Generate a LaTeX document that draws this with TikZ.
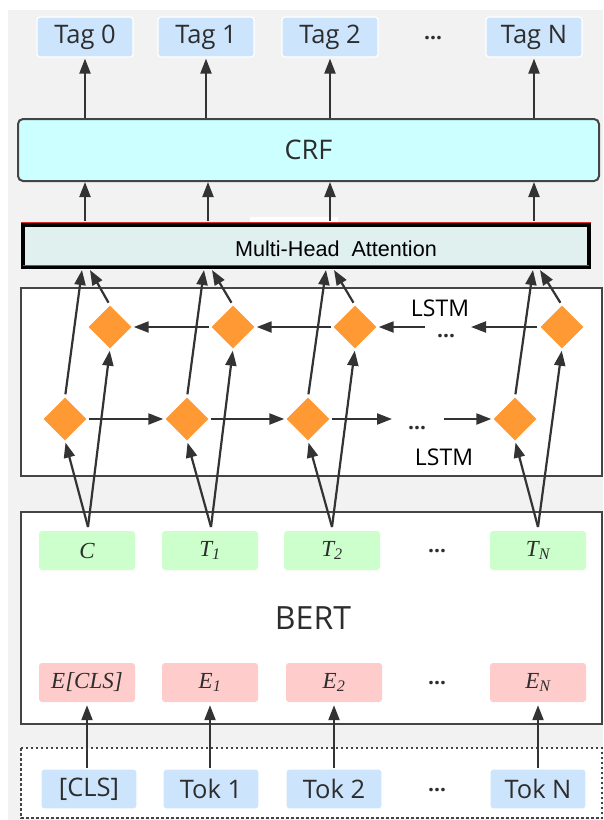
\documentclass[tikz,border=0pt]{standalone}
\usepackage{fontspec}
\setmainfont{Open Sans}
\newfontfamily\arialfont{Liberation Sans}
\newfontfamily\timesfont{Liberation Serif}
\usepackage{xcolor}
\usepackage{tikz}
\usetikzlibrary{calc}
\usetikzlibrary{arrows.meta}
\usetikzlibrary{shapes.geometric}

\definecolor{bggray}{RGB}{242,242,242}
\definecolor{tagblue}{RGB}{204,228,252}
\definecolor{crfcyan}{RGB}{204,255,255}
\definecolor{attteal}{RGB}{223,240,239}
\definecolor{attred}{RGB}{225,40,40}
\definecolor{outgreen}{RGB}{204,255,204}
\definecolor{embpink}{RGB}{255,204,204}
\definecolor{lstmorange}{RGB}{255,153,51}
\definecolor{framegray}{RGB}{68,68,68}
\definecolor{arrowgray}{RGB}{51,51,51}
\definecolor{textgray}{RGB}{45,45,45}

\begin{document}
\begin{tikzpicture}[x=1pt,y=-1pt]
% 1 = 1px of the sketch, y grows downwards
    \def\YTAG{37}
    \def\YCRF{150}
    \def\YBWD{327} % backward LSTM row
    \def\YFWD{419} % forward LSTM row
    \def\YAPEX{527} % where the two arrows leave T
    \def\YT{550.5}
    \def\YE{682.5}
    \def\YTOK{789}
    \def\YATTIN{270}

    %upper columns (tags, crf)
    \def\XUONE{85}
    \def\XUTWO{207}
    \def\XUTHREE{330}
    \def\XUFOUR{535}

    %lower columns (bert)
    \def\XLONE{88}
    \def\XLTWO{211}
    \def\XLTHREE{333}
    \def\XLFOUR{538}

    \tikzset{
      tagbox/.style={fill=tagblue, draw=white, line width=1.2pt,
        rounded corners=3pt, minimum width=96pt, minimum height=40pt,
        inner sep=0pt, text=textgray, font=\fontsize{25.5}{30}\selectfont},
      featbox/.style={rounded corners=3pt, minimum width=96pt,
        minimum height=39pt, inner sep=0pt, text=textgray,
        font=\timesfont\itshape\fontsize{23}{27}\selectfont},
      outbox/.style={featbox, fill=outgreen},
      embbox/.style={featbox, fill=embpink},
      lstmcell/.style={diamond, fill=lstmorange, minimum width=43pt,
        minimum height=43pt, inner sep=0pt},
      boxframe/.style={draw=framegray, line width=2pt, fill=white},
      arr/.style={-{Triangle[length=15pt,width=11pt]}, line width=2.2pt,
        color=arrowgray},
      ellip/.style={anchor=base, inner sep=0pt,
        font=\bfseries\fontsize{21}{25}\selectfont, text=textgray},
      lstmlabel/.style={inner sep=0pt, text=black,
        font=\fontsize{23}{27}\selectfont},
    }

    \useasboundingbox (0,0) rectangle (603,820);
    \fill[bggray] (8,10) rectangle (603,820);

    % TAG ROW
    \node[tagbox] (tag0) at (\XUONE,\YTAG) {Tag 0};
    \node[tagbox] (tag1) at (\XUTWO-1,\YTAG) {Tag 1};
    \node[tagbox] (tag2) at (\XUTHREE,\YTAG) {Tag 2};
    \node[ellip] (tagdots) at (433,\YTAG+2) {…};
    \node[tagbox] (tagN) at (\XUFOUR-1,\YTAG) {Tag N};

    % CRF
    \node[draw=framegray, line width=2pt, fill=crfcyan, rounded corners=5pt,
        minimum width=581pt, minimum height=62pt, text=textgray,
        font=\fontsize{27}{32}\selectfont] (crf) at (308.5,\YCRF) {CRF};

    % MULTI-HEAD ATTENTION
    \fill[white] (250,217) rectangle (338,222);
    \node[draw=black, line width=4pt, fill=attteal, minimum width=566pt,
        minimum height=42pt] (att) at (306,246) {};
    \draw[attred, line width=0.8pt] (21,222.3) -- (591,222.3);
    \draw[attred, line width=0.8pt] (23,265.3) -- (589,265.3);
    \node[inner sep=0pt, text=black, font=\arialfont\fontsize{21.6}{25}\selectfont]
        (atttxt) at (336,249) {Multi-Head\ \ Attention};

    % BI-LSTM
    \draw[boxframe] (21,288) rectangle (602,476);
    \node[lstmcell] (bwd1) at (110,\YBWD) {};
    \node[lstmcell] (bwd2) at (233,\YBWD) {};
    \node[lstmcell] (bwd3) at (355,\YBWD) {};
    \node[lstmcell] (bwd4) at (562,\YBWD) {};
    \node[lstmcell] (fwd1) at (65,\YFWD) {};
    \node[lstmcell] (fwd2) at (187,\YFWD) {};
    \node[lstmcell] (fwd3) at (308,\YFWD) {};
    \node[lstmcell] (fwd4) at (515,\YFWD) {};
    \node[lstmlabel] (bwdlabel) at (440,308.5) {LSTM};
    \node[lstmlabel] (fwdlabel) at (444,457) {LSTM};
    \node[ellip] (bwddots) at (446,\YBWD+10) {…};
    \node[ellip] (fwddots) at (417,\YFWD+10) {…};
    \coordinate (bwdend) at (471,\YBWD);
    \coordinate (bwdstart) at (425,\YBWD);
    \coordinate (fwdend) at (392,\YFWD);
    \coordinate (fwdstart) at (444,\YFWD);

    % BERT
    \draw[boxframe] (21,512) rectangle (602,724);
    \node[inner sep=0pt, text=textgray, font=\fontsize{32}{38}\selectfont]
        (bert) at (313,618) {BERT};
    \node[outbox] (t0) at (\XLONE-1,\YT) {C};
    \node[outbox] (t1) at (\XLTWO-1,\YT) {T\textsubscript{1}};
    \node[outbox] (t2) at (\XLTHREE-1,\YT) {T\textsubscript{2}};
    \node[ellip] (tdots) at (437,\YT+2) {…};
    \node[outbox] (tN) at (\XLFOUR,\YT) {T\textsubscript{N}};
    \node[embbox] (e0) at (\XLONE-1,\YE) {E[CLS]};
    \node[embbox] (e1) at (\XLTWO-1,\YE) {E\textsubscript{1}};
    \node[embbox] (e2) at (\XLTHREE+1,\YE) {E\textsubscript{2}};
    \node[ellip] (edots) at (437,\YE+2) {…};
    \node[embbox] (eN) at (\XLFOUR,\YE) {E\textsubscript{N}};

    % INPUT TOKENS
    \draw[draw=framegray, fill=white, line width=2pt,
        dash pattern=on 2.5pt off 2.5pt] (21,748) rectangle (602,818);
    \node[tagbox] (tok0) at (\XLONE+1,\YTOK) {[CLS]};
    \node[tagbox] (tok1) at (\XLTWO,\YTOK) {Tok 1};
    \node[tagbox] (tok2) at (\XLTHREE+1,\YTOK) {Tok 2};
    \node[ellip] (tokdots) at (437,\YTOK+2) {…};
    \node[tagbox] (tokN) at (\XLFOUR,\YTOK) {Tok N};

    % tokens into embeddings
    \draw[arr, shorten >=3pt] (tok0.north -| e0) -- (e0);
    \draw[arr, shorten >=3pt] (tok1.north -| e1) -- (e1);
    \draw[arr, shorten >=3pt] (tok2.north -| e2) -- (e2);
    \draw[arr, shorten >=3pt] (tokN.north -| eN) -- (eN);

    % BERT outputs into both LSTM directions
    \coordinate (ap0) at (\XLONE,\YAPEX);
    \coordinate (ap1) at (\XLTWO,\YAPEX);
    \coordinate (ap2) at (\XLTHREE-1,\YAPEX);
    \coordinate (apN) at (\XLFOUR,\YAPEX);
    \draw[arr, shorten >=2pt] (ap0) -- (fwd1.south);
    \draw[arr, shorten >=2pt] (ap0) -- (bwd1.south);
    \draw[arr, shorten >=2pt] (ap1) -- (fwd2.south);
    \draw[arr, shorten >=2pt] (ap1) -- (bwd2.south);
    \draw[arr, shorten >=2pt] (ap2) -- (fwd3.south);
    \draw[arr, shorten >=2pt] (ap2) -- (bwd3.south);
    \draw[arr, shorten >=2pt] (apN) -- (fwd4.south);
    \draw[arr, shorten >=2pt] (apN) -- (bwd4.south);

    % forward chain
    \draw[arr, shorten <=2pt, shorten >=2pt] (fwd1.east) -- (fwd2.west);
    \draw[arr, shorten <=2pt, shorten >=2pt] (fwd2.east) -- (fwd3.west);
    \draw[arr, shorten <=2pt] (fwd3.east) -- (fwdend);
    \draw[arr, shorten >=2pt] (fwdstart) -- (fwd4.west);

    % backward chain
    \draw[arr, shorten <=3pt] (bwd4.west) -- (bwdend);
    \draw[arr, shorten >=2pt] (bwdstart) -- (bwd3.east);
    \draw[arr, shorten <=2pt, shorten >=2pt] (bwd3.west) -- (bwd2.east);
    \draw[arr, shorten <=2pt, shorten >=2pt] (bwd2.west) -- (bwd1.east);

    % LSTM states into attention
    \coordinate (in0l) at (\XUONE-3,\YATTIN);
    \coordinate (in0r) at (\XUONE+5,\YATTIN);
    \coordinate (in1l) at (\XUTWO-3,\YATTIN);
    \coordinate (in1r) at (\XUTWO+5,\YATTIN);
    \coordinate (in2l) at (\XUTHREE-4,\YATTIN);
    \coordinate (in2r) at (\XUTHREE+4,\YATTIN);
    \coordinate (inNl) at (\XUFOUR-2,\YATTIN);
    \coordinate (inNr) at (\XUFOUR+5,\YATTIN);
    \draw[arr, shorten <=3pt] (fwd1.north) -- (in0l);
    \draw[arr, shorten <=3pt] (bwd1.north) -- (in0r);
    \draw[arr, shorten <=3pt] (fwd2.north) -- (in1l);
    \draw[arr, shorten <=3pt] (bwd2.north) -- (in1r);
    \draw[arr, shorten <=3pt] (fwd3.north) -- (in2l);
    \draw[arr, shorten <=3pt] (bwd3.north) -- (in2r);
    \draw[arr, shorten <=3pt] (fwd4.north) -- (inNl);
    \draw[arr, shorten <=3pt] (bwd4.north) -- (inNr);

    % attention into CRF
    \draw[arr] ([yshift=2pt]att.north -| tag0) -- (crf.south -| tag0);
    \draw[arr] ([yshift=2pt]att.north -| \XUTWO+1,0) -- (crf.south -| \XUTWO+1,0);
    \draw[arr] ([yshift=2pt]att.north -| tag2) -- (crf.south -| tag2);
    \draw[arr] ([yshift=2pt]att.north -| tagN) -- (crf.south -| tagN);

    % CRF into tags
    \draw[arr, shorten >=1pt] (crf.north -| tag0) -- (tag0);
    \draw[arr, shorten >=1pt] (crf.north -| tag1) -- (tag1);
    \draw[arr, shorten >=1pt] (crf.north -| tag2) -- (tag2);
    \draw[arr, shorten >=1pt] (crf.north -| tagN) -- (tagN);

\end{tikzpicture}
\end{document}
